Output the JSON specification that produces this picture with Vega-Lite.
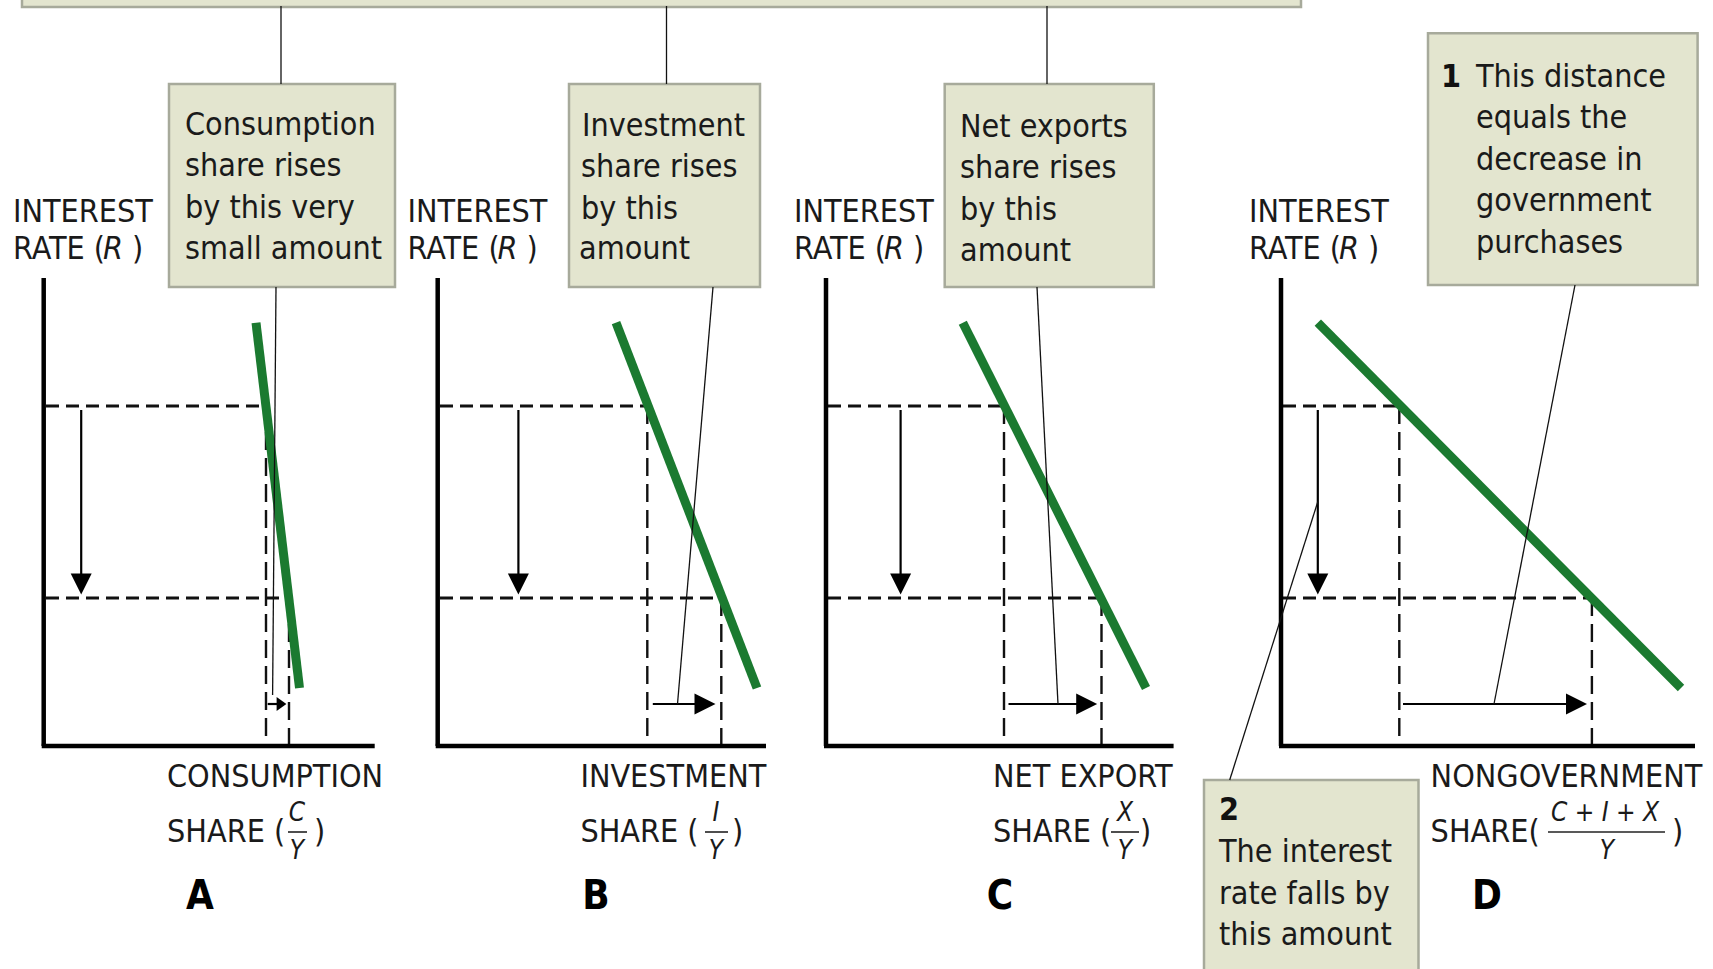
{
  "$schema": "https://vega.github.io/schema/vega-lite/v6.json",
  "width": 1713,
  "height": 969,
  "padding": 0,
  "autosize": {"type": "fit", "contains": "padding"},
  "background": "white",
  "config": {"view": {"stroke": null}},
  "datasets": {
    "axes": [
      {"x": 43.7, "y": 278, "x2": 43.7, "y2": 746},
      {"x": 41.7, "y": 746, "x2": 374.7, "y2": 746},
      {"x": 437.7, "y": 278, "x2": 437.7, "y2": 746},
      {"x": 435.7, "y": 746, "x2": 766, "y2": 746},
      {"x": 826, "y": 278, "x2": 826, "y2": 746},
      {"x": 824, "y": 746, "x2": 1173.6, "y2": 746},
      {"x": 1281, "y": 278, "x2": 1281, "y2": 746},
      {"x": 1279, "y": 746, "x2": 1695, "y2": 746}
    ],
    "hdash": [
      {"x": 46, "y": 406, "x2": 266, "y2": 406},
      {"x": 46, "y": 598, "x2": 289, "y2": 598},
      {"x": 440, "y": 406, "x2": 647.3, "y2": 406},
      {"x": 440, "y": 598, "x2": 721.3, "y2": 598},
      {"x": 828, "y": 406, "x2": 1004, "y2": 406},
      {"x": 828, "y": 598, "x2": 1101.5, "y2": 598},
      {"x": 1283, "y": 406, "x2": 1399.3, "y2": 406},
      {"x": 1283, "y": 598, "x2": 1591.9, "y2": 598}
    ],
    "vdash": [
      {"x": 266, "y": 406, "x2": 266, "y2": 744},
      {"x": 289, "y": 598, "x2": 289, "y2": 744},
      {"x": 647.3, "y": 406, "x2": 647.3, "y2": 744},
      {"x": 721.3, "y": 598, "x2": 721.3, "y2": 744},
      {"x": 1004, "y": 406, "x2": 1004, "y2": 744},
      {"x": 1101.5, "y": 598, "x2": 1101.5, "y2": 744},
      {"x": 1399.3, "y": 406, "x2": 1399.3, "y2": 744},
      {"x": 1591.9, "y": 598, "x2": 1591.9, "y2": 744}
    ],
    "green": [
      {"x": 256, "y": 322.7, "x2": 299.5, "y2": 688},
      {"x": 616, "y": 322.7, "x2": 757, "y2": 688},
      {"x": 962.8, "y": 322.7, "x2": 1146, "y2": 688},
      {"x": 1317.8, "y": 322.7, "x2": 1681, "y2": 688}
    ],
    "shafts": [
      {"x": 81.2, "y": 410, "x2": 81.2, "y2": 585},
      {"x": 518.4, "y": 410, "x2": 518.4, "y2": 585},
      {"x": 900.6, "y": 410, "x2": 900.6, "y2": 585},
      {"x": 1317.8, "y": 410, "x2": 1317.8, "y2": 585},
      {"x": 267.7, "y": 704, "x2": 281, "y2": 704},
      {"x": 652.8, "y": 704, "x2": 706, "y2": 704},
      {"x": 1008.5, "y": 704, "x2": 1087.7, "y2": 704},
      {"x": 1403, "y": 704, "x2": 1577.5, "y2": 704}
    ],
    "downheads": [
      {"x": 81.2, "y": 584},
      {"x": 518.4, "y": 584},
      {"x": 900.6, "y": 584},
      {"x": 1317.8, "y": 584}
    ],
    "rightheads": [
      {"x": 705, "y": 704},
      {"x": 1086.7, "y": 704},
      {"x": 1576.5, "y": 704}
    ],
    "smallhead": [
      {"x": 281.5, "y": 704}
    ],
    "leaders": [
      {"x": 281, "y": 6, "x2": 281, "y2": 84},
      {"x": 666.5, "y": 6, "x2": 666.5, "y2": 84},
      {"x": 1047, "y": 6, "x2": 1047, "y2": 84},
      {"x": 276, "y": 287, "x2": 272.6, "y2": 695},
      {"x": 713, "y": 287, "x2": 677.5, "y2": 704},
      {"x": 1037, "y": 287, "x2": 1058, "y2": 704},
      {"x": 1575, "y": 285, "x2": 1494, "y2": 704},
      {"x": 1317.8, "y": 501.7, "x2": 1229.7, "y2": 780}
    ],
    "boxes": [
      {"x": 22, "y": -12, "x2": 1301, "y2": 7},
      {"x": 169, "y": 84, "x2": 395, "y2": 287},
      {"x": 569, "y": 84, "x2": 760, "y2": 287},
      {"x": 944.7, "y": 84, "x2": 1153.8, "y2": 287},
      {"x": 1428, "y": 33.3, "x2": 1697.6, "y2": 285},
      {"x": 1204, "y": 780, "x2": 1418.5, "y2": 995}
    ],
    "boxtext": [
      {"x": 185, "y": 125, "t": "Consumption"},
      {"x": 185, "y": 166, "t": "share rises"},
      {"x": 185, "y": 208, "t": "by this very"},
      {"x": 185, "y": 249, "t": "small amount"},
      {"x": 582, "y": 126, "t": "Investment"},
      {"x": 581, "y": 167, "t": "share rises"},
      {"x": 581, "y": 209, "t": "by this"},
      {"x": 579, "y": 249, "t": "amount"},
      {"x": 960, "y": 127, "t": "Net exports"},
      {"x": 960, "y": 168, "t": "share rises"},
      {"x": 960, "y": 210, "t": "by this"},
      {"x": 960, "y": 251, "t": "amount"},
      {"x": 1476, "y": 76.5, "t": "This distance"},
      {"x": 1476, "y": 118, "t": "equals the"},
      {"x": 1476, "y": 159.5, "t": "decrease in"},
      {"x": 1476, "y": 201, "t": "government"},
      {"x": 1476, "y": 242.5, "t": "purchases"},
      {"x": 1219, "y": 852, "t": "The interest"},
      {"x": 1219, "y": 893.7, "t": "rate falls by"},
      {"x": 1219, "y": 935, "t": "this amount"}
    ],
    "boldnum": [
      {"x": 1441, "y": 76.5, "t": "1"},
      {"x": 1219, "y": 810, "t": "2"}
    ],
    "labels": [
      {"x": 13, "y": 211.5, "t": "INTEREST"},
      {"x": 13, "y": 248.5, "t": "RATE ("},
      {"x": 132, "y": 248.5, "t": ")"},
      {"x": 407.6, "y": 211.5, "t": "INTEREST"},
      {"x": 407.6, "y": 248.5, "t": "RATE ("},
      {"x": 526.6, "y": 248.5, "t": ")"},
      {"x": 794, "y": 211.5, "t": "INTEREST"},
      {"x": 794, "y": 248.5, "t": "RATE ("},
      {"x": 913, "y": 248.5, "t": ")"},
      {"x": 1249, "y": 211.5, "t": "INTEREST"},
      {"x": 1249, "y": 248.5, "t": "RATE ("},
      {"x": 1368, "y": 248.5, "t": ")"},
      {"x": 167, "y": 777, "t": "CONSUMPTION"},
      {"x": 167, "y": 831.7, "t": "SHARE ("},
      {"x": 314, "y": 831.7, "t": ")"},
      {"x": 580.4, "y": 777, "t": "INVESTMENT"},
      {"x": 580.4, "y": 831.7, "t": "SHARE ("},
      {"x": 732, "y": 831.7, "t": ")"},
      {"x": 993, "y": 777, "t": "NET EXPORT"},
      {"x": 993, "y": 831.7, "t": "SHARE ("},
      {"x": 1140, "y": 831.7, "t": ")"},
      {"x": 1430.6, "y": 777, "t": "NONGOVERNMENT"},
      {"x": 1430.6, "y": 831.7, "t": "SHARE("},
      {"x": 1672, "y": 831.7, "t": ")"}
    ],
    "italicR": [
      {"x": 103, "y": 248.5, "t": "R"},
      {"x": 497.6, "y": 248.5, "t": "R"},
      {"x": 884, "y": 248.5, "t": "R"},
      {"x": 1339, "y": 248.5, "t": "R"}
    ],
    "frac": [
      {"x": 297, "y": 813, "t": "C"},
      {"x": 297, "y": 851, "t": "Y"},
      {"x": 716, "y": 813, "t": "I"},
      {"x": 716, "y": 851, "t": "Y"},
      {"x": 1125, "y": 813, "t": "X"},
      {"x": 1125, "y": 851, "t": "Y"},
      {"x": 1605, "y": 813, "t": "C + I + X"},
      {"x": 1607, "y": 851, "t": "Y"}
    ],
    "fracbars": [
      {"x": 288, "y": 832, "x2": 307, "y2": 832},
      {"x": 705, "y": 832, "x2": 728, "y2": 832},
      {"x": 1111, "y": 832, "x2": 1139, "y2": 832},
      {"x": 1548, "y": 832, "x2": 1665, "y2": 832}
    ],
    "letters": [
      {"x": 200, "y": 897, "t": "A"},
      {"x": 596, "y": 897, "t": "B"},
      {"x": 1000, "y": 897, "t": "C"},
      {"x": 1487, "y": 897, "t": "D"}
    ]
  },
  "layer": [
    {
      "data": {"name": "boxes"},
      "mark": {"type": "rect", "fill": "#e3e5cf", "stroke": "#a7aa9b", "strokeWidth": 2.5, "clip": true},
      "encoding": {
        "x": {"field": "x", "type": "quantitative", "scale": {"domain": [0, 1713], "nice": false, "zero": false}, "axis": null},
        "y": {"field": "y", "type": "quantitative", "scale": {"domain": [0, 969], "nice": false, "zero": false, "reverse": true}, "axis": null},
        "x2": {"field": "x2"},
        "y2": {"field": "y2"}
      }
    },
    {
      "data": {"name": "hdash"},
      "mark": {"type": "rule", "color": "#111111", "strokeWidth": 3, "strokeDash": [13, 7], "strokeCap": "butt"},
      "encoding": {
        "x": {"field": "x", "type": "quantitative", "scale": {"domain": [0, 1713], "nice": false, "zero": false}, "axis": null},
        "y": {"field": "y", "type": "quantitative", "scale": {"domain": [0, 969], "nice": false, "zero": false, "reverse": true}, "axis": null},
        "x2": {"field": "x2"},
        "y2": {"field": "y2"}
      }
    },
    {
      "data": {"name": "vdash"},
      "mark": {"type": "rule", "color": "#111111", "strokeWidth": 2.4, "strokeDash": [18, 8], "strokeCap": "butt"},
      "encoding": {
        "x": {"field": "x", "type": "quantitative", "scale": {"domain": [0, 1713], "nice": false, "zero": false}, "axis": null},
        "y": {"field": "y", "type": "quantitative", "scale": {"domain": [0, 969], "nice": false, "zero": false, "reverse": true}, "axis": null},
        "x2": {"field": "x2"},
        "y2": {"field": "y2"}
      }
    },
    {
      "data": {"name": "axes"},
      "mark": {"type": "rule", "color": "#000000", "strokeWidth": 4.5, "strokeCap": "butt"},
      "encoding": {
        "x": {"field": "x", "type": "quantitative", "scale": {"domain": [0, 1713], "nice": false, "zero": false}, "axis": null},
        "y": {"field": "y", "type": "quantitative", "scale": {"domain": [0, 969], "nice": false, "zero": false, "reverse": true}, "axis": null},
        "x2": {"field": "x2"},
        "y2": {"field": "y2"}
      }
    },
    {
      "data": {"name": "green"},
      "mark": {"type": "rule", "color": "#1b7a30", "strokeWidth": 9, "strokeCap": "butt"},
      "encoding": {
        "x": {"field": "x", "type": "quantitative", "scale": {"domain": [0, 1713], "nice": false, "zero": false}, "axis": null},
        "y": {"field": "y", "type": "quantitative", "scale": {"domain": [0, 969], "nice": false, "zero": false, "reverse": true}, "axis": null},
        "x2": {"field": "x2"},
        "y2": {"field": "y2"}
      }
    },
    {
      "data": {"name": "shafts"},
      "mark": {"type": "rule", "color": "#000000", "strokeWidth": 2.2, "strokeCap": "butt"},
      "encoding": {
        "x": {"field": "x", "type": "quantitative", "scale": {"domain": [0, 1713], "nice": false, "zero": false}, "axis": null},
        "y": {"field": "y", "type": "quantitative", "scale": {"domain": [0, 969], "nice": false, "zero": false, "reverse": true}, "axis": null},
        "x2": {"field": "x2"},
        "y2": {"field": "y2"}
      }
    },
    {
      "data": {"name": "downheads"},
      "mark": {"type": "point", "shape": "M-1,-1L1,-1L0,1Z", "size": 441, "filled": true, "color": "#000000", "opacity": 1},
      "encoding": {
        "x": {"field": "x", "type": "quantitative", "scale": {"domain": [0, 1713], "nice": false, "zero": false}, "axis": null},
        "y": {"field": "y", "type": "quantitative", "scale": {"domain": [0, 969], "nice": false, "zero": false, "reverse": true}, "axis": null}
      }
    },
    {
      "data": {"name": "rightheads"},
      "mark": {"type": "point", "shape": "M-1,-1L1,0L-1,1Z", "size": 441, "filled": true, "color": "#000000", "opacity": 1},
      "encoding": {
        "x": {"field": "x", "type": "quantitative", "scale": {"domain": [0, 1713], "nice": false, "zero": false}, "axis": null},
        "y": {"field": "y", "type": "quantitative", "scale": {"domain": [0, 969], "nice": false, "zero": false, "reverse": true}, "axis": null}
      }
    },
    {
      "data": {"name": "smallhead"},
      "mark": {"type": "point", "shape": "M-0.7,-1L0.7,0L-0.7,1Z", "size": 196, "filled": true, "color": "#000000", "opacity": 1},
      "encoding": {
        "x": {"field": "x", "type": "quantitative", "scale": {"domain": [0, 1713], "nice": false, "zero": false}, "axis": null},
        "y": {"field": "y", "type": "quantitative", "scale": {"domain": [0, 969], "nice": false, "zero": false, "reverse": true}, "axis": null}
      }
    },
    {
      "data": {"name": "fracbars"},
      "mark": {"type": "rule", "color": "#222222", "strokeWidth": 1.6, "strokeCap": "butt"},
      "encoding": {
        "x": {"field": "x", "type": "quantitative", "scale": {"domain": [0, 1713], "nice": false, "zero": false}, "axis": null},
        "y": {"field": "y", "type": "quantitative", "scale": {"domain": [0, 969], "nice": false, "zero": false, "reverse": true}, "axis": null},
        "x2": {"field": "x2"},
        "y2": {"field": "y2"}
      }
    },
    {
      "data": {"name": "leaders"},
      "mark": {"type": "rule", "color": "#111111", "strokeWidth": 1.3},
      "encoding": {
        "x": {"field": "x", "type": "quantitative", "scale": {"domain": [0, 1713], "nice": false, "zero": false}, "axis": null},
        "y": {"field": "y", "type": "quantitative", "scale": {"domain": [0, 969], "nice": false, "zero": false, "reverse": true}, "axis": null},
        "x2": {"field": "x2"},
        "y2": {"field": "y2"}
      }
    },
    {
      "data": {"name": "boxtext"},
      "mark": {"type": "text", "align": "left", "baseline": "middle", "font": "DejaVu Sans Condensed, DejaVu Sans", "fontSize": 32, "color": "#1a1a1a"},
      "encoding": {
        "x": {"field": "x", "type": "quantitative", "scale": {"domain": [0, 1713], "nice": false, "zero": false}, "axis": null},
        "y": {"field": "y", "type": "quantitative", "scale": {"domain": [0, 969], "nice": false, "zero": false, "reverse": true}, "axis": null},
        "text": {"field": "t"}
      }
    },
    {
      "data": {"name": "boldnum"},
      "mark": {"type": "text", "align": "left", "baseline": "middle", "font": "DejaVu Sans Condensed, DejaVu Sans", "fontWeight": "bold", "fontSize": 32, "color": "#111111"},
      "encoding": {
        "x": {"field": "x", "type": "quantitative", "scale": {"domain": [0, 1713], "nice": false, "zero": false}, "axis": null},
        "y": {"field": "y", "type": "quantitative", "scale": {"domain": [0, 969], "nice": false, "zero": false, "reverse": true}, "axis": null},
        "text": {"field": "t"}
      }
    },
    {
      "data": {"name": "labels"},
      "mark": {"type": "text", "align": "left", "baseline": "middle", "font": "DejaVu Sans Condensed, DejaVu Sans", "fontSize": 32, "color": "#1a1a1a"},
      "encoding": {
        "x": {"field": "x", "type": "quantitative", "scale": {"domain": [0, 1713], "nice": false, "zero": false}, "axis": null},
        "y": {"field": "y", "type": "quantitative", "scale": {"domain": [0, 969], "nice": false, "zero": false, "reverse": true}, "axis": null},
        "text": {"field": "t"}
      }
    },
    {
      "data": {"name": "italicR"},
      "mark": {"type": "text", "align": "left", "baseline": "middle", "font": "DejaVu Sans Condensed, DejaVu Sans", "fontStyle": "italic", "fontSize": 32, "color": "#1a1a1a"},
      "encoding": {
        "x": {"field": "x", "type": "quantitative", "scale": {"domain": [0, 1713], "nice": false, "zero": false}, "axis": null},
        "y": {"field": "y", "type": "quantitative", "scale": {"domain": [0, 969], "nice": false, "zero": false, "reverse": true}, "axis": null},
        "text": {"field": "t"}
      }
    },
    {
      "data": {"name": "frac"},
      "mark": {"type": "text", "align": "center", "baseline": "middle", "font": "DejaVu Sans Condensed, DejaVu Sans", "fontStyle": "italic", "fontSize": 26, "color": "#1a1a1a"},
      "encoding": {
        "x": {"field": "x", "type": "quantitative", "scale": {"domain": [0, 1713], "nice": false, "zero": false}, "axis": null},
        "y": {"field": "y", "type": "quantitative", "scale": {"domain": [0, 969], "nice": false, "zero": false, "reverse": true}, "axis": null},
        "text": {"field": "t"}
      }
    },
    {
      "data": {"name": "letters"},
      "mark": {"type": "text", "align": "center", "baseline": "middle", "font": "DejaVu Sans Condensed, DejaVu Sans", "fontWeight": "bold", "fontSize": 40, "color": "#000000"},
      "encoding": {
        "x": {"field": "x", "type": "quantitative", "scale": {"domain": [0, 1713], "nice": false, "zero": false}, "axis": null},
        "y": {"field": "y", "type": "quantitative", "scale": {"domain": [0, 969], "nice": false, "zero": false, "reverse": true}, "axis": null},
        "text": {"field": "t"}
      }
    }
  ]
}
